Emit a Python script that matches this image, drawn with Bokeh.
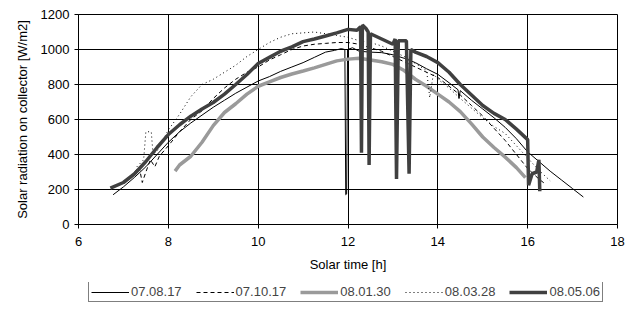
from bokeh.plotting import figure
from bokeh.models import Legend, LegendItem, FixedTicker, Range1d
from bokeh.layouts import column
from bokeh.embed import file_html
from bokeh.resources import INLINE

# ---- data ----
t_070817 = [6.77, 7.0, 7.25, 7.5, 7.75, 8.0, 8.25, 8.5, 8.75, 9.0, 9.25, 9.5, 9.75, 10.0,
            10.25, 10.5, 10.75, 11.0, 11.25, 11.5, 11.7, 11.85, 11.93, 11.95, 11.97, 11.99,
            12.1, 12.25, 12.5, 12.75, 13.0, 13.25, 13.5, 13.75, 14.0, 14.25, 14.45, 14.47,
            14.5, 14.75, 15.0, 15.25, 15.5, 15.75, 16.0, 16.25, 16.5, 16.75, 17.0, 17.24]
v_070817 = [170, 215, 270, 330, 400, 470, 530, 580, 625, 670, 710, 750, 785, 820,
            845, 875, 900, 925, 955, 985, 995, 1005, 1000, 170, 175, 1000,
            1010, 990, 985, 982, 970, 950, 925, 890, 858, 810, 770, 720,
            765, 710, 660, 610, 555, 490, 415, 360, 305, 255, 205, 157]

t_071017 = [7.25, 7.35, 7.42, 7.5, 7.6, 7.7, 7.8, 8.0, 8.25, 8.5, 8.75, 9.0, 9.25, 9.5,
            9.75, 10.0, 10.25, 10.5, 10.75, 11.0, 11.25, 11.5, 11.75, 12.0, 12.25, 12.5,
            12.75, 13.0, 13.25, 13.5, 13.75, 14.0, 14.25, 14.5, 14.75, 15.0, 15.25, 15.5,
            15.75, 16.0, 16.25, 16.4]
v_071017 = [300, 330, 240, 300, 370, 330, 390, 450, 530, 600, 650, 720, 780, 830,
            870, 900, 940, 970, 1000, 1020, 1030, 1035, 1040, 1040, 1030, 1010,
            990, 960, 930, 900, 870, 840, 790, 740, 680, 620, 550, 480,
            400, 320, 260, 230]

t_080130 = [8.15, 8.25, 8.5, 8.75, 9.0, 9.25, 9.5, 9.75, 10.0, 10.25, 10.5, 10.75, 11.0,
            11.25, 11.5, 11.75, 12.0, 12.25, 12.5, 12.75, 13.0, 13.25, 13.5, 13.75, 14.0,
            14.25, 14.5, 14.75, 15.0, 15.25, 15.5, 15.75, 15.95]
v_080130 = [305, 340, 390, 470, 565, 640, 690, 745, 790, 815, 840, 860, 877,
            895, 915, 935, 945, 950, 940, 930, 915, 880, 830, 790, 745,
            700, 645, 575, 500, 440, 385, 325, 268]

t_080328 = [7.3, 7.45, 7.5, 7.62, 7.66, 7.75, 8.0, 8.25, 8.5, 8.75, 9.0, 9.25, 9.5, 9.75,
            10.0, 10.25, 10.5, 10.75, 11.0, 11.25, 11.5, 11.75, 12.0, 12.25, 12.5, 12.75,
            13.0, 13.25, 13.5, 13.75, 13.82, 13.9, 14.0, 14.25, 14.5, 14.75, 15.0, 15.25,
            15.5, 15.75, 16.0, 16.25, 16.5]
v_080328 = [330, 370, 530, 530, 400, 420, 540, 630, 730, 800, 830, 870, 910, 960,
            1000, 1040, 1070, 1090, 1095, 1100, 1090, 1080, 1070, 1050, 1040, 1020,
            990, 960, 920, 880, 725, 860, 830, 780, 720, 665, 610, 560,
            520, 450, 380, 310, 250]

t_080506 = [6.71, 7.0, 7.25, 7.5, 7.75, 8.0, 8.25, 8.5, 8.75, 9.0, 9.25, 9.5, 9.75, 10.0,
            10.25, 10.5, 10.75, 11.0, 11.25, 11.5, 11.75, 12.0, 12.2, 12.28, 12.3, 12.32,
            12.4, 12.45, 12.47, 12.5, 12.75, 13.0, 13.05, 13.08, 13.12, 13.3, 13.36, 13.4,
            13.5, 13.75, 14.0, 14.25, 14.5, 14.75, 15.0, 15.25, 15.5, 15.75, 16.0, 16.02,
            16.1, 16.2, 16.25, 16.27]
v_080506 = [208, 240, 290, 360, 440, 514, 570, 619, 660, 697, 745, 800, 857, 920,
            955, 990, 1015, 1045, 1060, 1077, 1095, 1115, 1110, 1130, 410, 1140,
            1120, 1100, 340, 1090, 1060, 1030, 1060, 260, 1050, 1050, 290, 1000,
            985, 960, 925, 870, 800, 740, 680, 635, 600, 545, 485, 225,
            290, 300, 370, 190]

series_labels = ["07.08.17", "07.10.17", "08.01.30", "08.03.28", "08.05.06"]
x_ticks = [6, 8, 10, 12, 14, 16, 18]
y_ticks = [0, 200, 400, 600, 800, 1000, 1200]

FONT = "Liberation Sans"
STYLES = [
    dict(line_color="black", line_width=1),
    dict(line_color="black", line_width=1, line_dash="4 3"),
    dict(line_color="#9a9a9a", line_width=3.5),
    dict(line_color="black", line_width=1, line_dash="1 3"),
    dict(line_color="#404040", line_width=3.5),
]
SERIES = [(t_070817, v_070817), (t_071017, v_071017), (t_080130, v_080130),
          (t_080328, v_080328), (t_080506, v_080506)]

p = figure(frame_width=539, frame_height=210, output_backend="svg", toolbar_location=None,
           x_range=Range1d(6, 18), y_range=Range1d(0, 1200),
           min_border_left=69, min_border_right=12, min_border_top=7, min_border_bottom=58)
p.background_fill_color = "white"
p.border_fill_color = "white"
p.outline_line_color = "black"
p.outline_line_width = 1

for ax in (p.xaxis[0], p.yaxis[0]):
    ax.axis_line_color = "black"
    ax.major_tick_line_color = "black"
    ax.major_tick_out = 4
    ax.major_tick_in = 0
    ax.minor_tick_line_color = None
    ax.major_label_text_font = FONT
    ax.major_label_text_font_size = "13px"
    ax.major_label_text_color = "black"
    ax.axis_label_text_font = FONT
    ax.axis_label_text_font_size = "13px"
    ax.axis_label_text_font_style = "normal"
    ax.axis_label_text_color = "black"

p.xaxis.ticker = FixedTicker(ticks=x_ticks)
p.yaxis.ticker = FixedTicker(ticks=y_ticks)
p.xaxis.axis_label = "Solar time [h]"
p.yaxis.axis_label = "Solar radiation on collector [W/m2]"
p.xaxis.major_label_standoff = 8
p.xaxis.axis_label_standoff = 8
p.yaxis.major_label_standoff = 5
p.yaxis.axis_label_standoff = 8

p.xgrid.ticker = FixedTicker(ticks=x_ticks)
p.ygrid.ticker = FixedTicker(ticks=y_ticks)
p.grid.grid_line_color = "black"
p.grid.grid_line_width = 1

for (tx, vy), st in zip(SERIES, STYLES):
    p.line(tx, vy, **st)

# legend strip below the chart (series drawn off-view there, only their keys show)
q = figure(frame_width=539, frame_height=20, output_backend="svg", toolbar_location=None,
           x_range=Range1d(0, 1), y_range=Range1d(0, 1),
           x_axis_location=None, y_axis_location=None,
           min_border_left=69, min_border_right=12, min_border_top=0, min_border_bottom=0)
q.outline_line_color = None
q.grid.visible = False
q.background_fill_color = "white"
q.border_fill_color = "white"
items = []
for (tx, vy), st, lab in zip(SERIES, STYLES, series_labels):
    r = q.line(tx, vy, **st)
    items.append(LegendItem(label=lab, renderers=[r]))

legend = Legend(items=items, orientation="horizontal", location=(10, 0))
legend.label_text_font = FONT
legend.label_text_font_size = "13px"
legend.glyph_width = 38
legend.glyph_height = 14
legend.label_height = 14
legend.label_standoff = 2
legend.spacing = 14
legend.padding = 2
legend.margin = 0
legend.border_line_color = "black"
legend.border_line_width = 1
legend.background_fill_color = "white"
q.add_layout(legend, "center")

layout = column(p, q, spacing=0, margin=(7, 0, 0, 9))
open("out.html", "w").write(file_html(layout, INLINE))
